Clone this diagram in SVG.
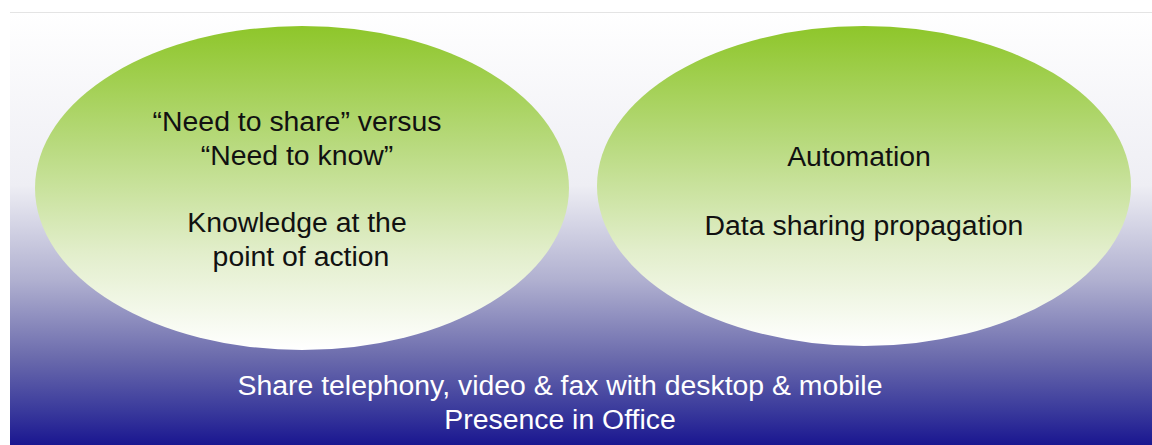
<svg xmlns="http://www.w3.org/2000/svg" width="1152" height="445" viewBox="0 0 1152 445">
<defs>
<linearGradient id="bg" x1="0" y1="0" x2="0" y2="1">
<stop offset="0" stop-color="#ffffff"/>
<stop offset="0.4" stop-color="#eeeef4"/>
<stop offset="0.62" stop-color="#b0b0d0"/>
<stop offset="0.8" stop-color="#6a6aac"/>
<stop offset="0.92" stop-color="#3a3a9c"/>
<stop offset="1" stop-color="#1a1690"/>
</linearGradient>
<linearGradient id="ell" x1="0" y1="0" x2="0" y2="1">
<stop offset="0" stop-color="#8ec62a"/>
<stop offset="0.35" stop-color="#b6d97a"/>
<stop offset="0.7" stop-color="#e2eecb"/>
<stop offset="1" stop-color="#ffffff"/>
</linearGradient>
<style>
.t{font-family:"Liberation Sans",Arial,sans-serif;font-size:28.4px;text-anchor:middle;fill:#111}
.w{fill:#ffffff}
</style>
</defs>
<rect x="0" y="0" width="1152" height="445" fill="#ffffff"/>
<rect x="10" y="12" width="1142" height="433" fill="url(#bg)"/>
<line x1="10" y1="12.5" x2="1152" y2="12.5" stroke="#e4e4e4" stroke-width="1"/>
<g id="node-left">
<ellipse cx="302" cy="188" rx="267" ry="162" fill="url(#ell)"/>
<text class="t" x="297" y="131">“Need to share” versus</text>
<text class="t" x="297" y="165">“Need to know”</text>
<text class="t" x="297" y="232">Knowledge at the</text>
<text class="t" x="301" y="266">point of action</text>
</g>
<g id="node-right">
<ellipse cx="864" cy="186" rx="267" ry="160" fill="url(#ell)"/>
<text class="t" x="859" y="166">Automation</text>
<text class="t" x="864" y="235">Data sharing propagation</text>
</g>
<g id="connectors"></g>
<g id="footer">
<text class="t w" x="560" y="395">Share telephony, video &amp; fax with desktop &amp; mobile</text>
<text class="t w" x="560" y="429">Presence in Office</text>
</g>
</svg>
